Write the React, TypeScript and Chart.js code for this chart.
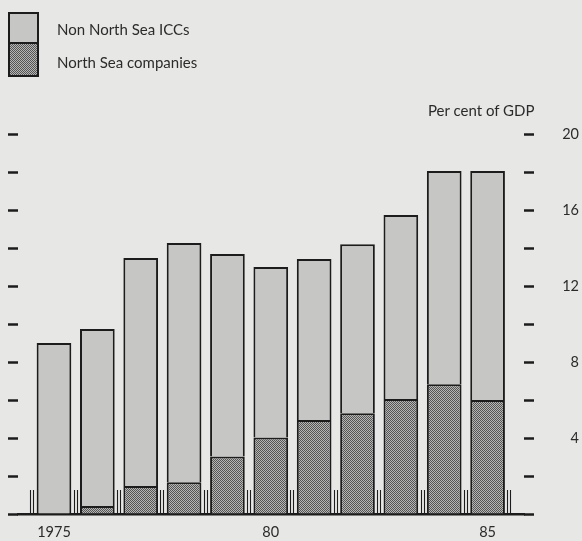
import React, { useEffect, useRef } from 'react';
import { Chart, registerables } from 'chart.js';

Chart.register(...registerables);

// ---- data ----
const years = [1975, 1976, 1977, 1978, 1979, 1980, 1981, 1982, 1983, 1984, 1985];
const northSea = [0, 0.42, 1.47, 1.67, 3.02, 4.02, 4.95, 5.3, 6.05, 6.83, 6.0];
const nonNorthSea = [9.0, 9.32, 12.0, 12.59, 10.66, 8.98, 8.47, 8.9, 9.69, 11.22, 12.05];
const yearTickLabels: Record<number, string> = { 1975: '1975', 1980: '80', 1985: '85' };
const rightTickLabels = [4, 8, 12, 16, 20];
const seriesNames = ['Non North Sea ICCs', 'North Sea companies'];
const unitLabel = 'Per cent of GDP';

const INK = '#1c1c1c';
const TEXT = '#2b2b2b';
const PAPER = '#e7e7e5';
const LIGHT = '#c6c6c4';
const FONT = 'Lato, "Open Sans", sans-serif';

function makePatternCanvas(): HTMLCanvasElement {
  const c = document.createElement('canvas');
  c.width = 2;
  c.height = 2;
  const g = c.getContext('2d')!;
  g.fillStyle = '#b6b6b4';
  g.fillRect(0, 0, 2, 2);
  g.fillStyle = '#555555';
  g.fillRect(0, 0, 1, 1);
  g.fillRect(1, 1, 1, 1);
  return c;
}

const separatorPlugin = {
  id: 'yearSeparators',
  afterDatasetsDraw(chart: any) {
    const x = chart.scales.x;
    const bottom = chart.chartArea.bottom;
    const ctx = chart.ctx as CanvasRenderingContext2D;
    const bounds = [...years.map((y) => y - 0.5), years[years.length - 1] + 0.5];
    ctx.save();
    ctx.strokeStyle = INK;
    ctx.lineWidth = 1.1;
    for (const b of bounds) {
      const px = Math.round(x.getPixelForValue(b));
      for (const dx of [-1.5, 1.5]) {
        ctx.beginPath();
        ctx.moveTo(px + dx, bottom);
        ctx.lineTo(px + dx, bottom - 24);
        ctx.stroke();
      }
    }
    ctx.restore();
  },
};

export default function App() {
  const canvasRef = useRef<HTMLCanvasElement>(null);
  const swatchRef = useRef<HTMLDivElement>(null);

  useEffect(() => {
    const canvas = canvasRef.current!;
    const ctx = canvas.getContext('2d')!;
    const patCanvas = makePatternCanvas();
    const pattern = ctx.createPattern(patCanvas, 'repeat')!;
    if (swatchRef.current) {
      swatchRef.current.style.backgroundImage = `url(${patCanvas.toDataURL()})`;
      swatchRef.current.style.backgroundRepeat = 'repeat';
      (swatchRef.current.style as any).imageRendering = 'pixelated';
    }

    Chart.defaults.font.family = FONT;
    Chart.defaults.font.size = 14;
    Chart.defaults.color = TEXT;

    const chart = new Chart(canvas, {
      type: 'bar',
      data: {
        labels: years,
        datasets: [
          {
            label: seriesNames[1],
            data: northSea,
            xAxisID: 'x',
            yAxisID: 'y',
            backgroundColor: pattern,
            borderColor: INK,
            borderWidth: 2,
            categoryPercentage: 0.8,
            barPercentage: 1,
          },
          {
            label: seriesNames[0],
            data: nonNorthSea,
            xAxisID: 'x',
            yAxisID: 'y',
            backgroundColor: LIGHT,
            borderColor: INK,
            borderWidth: 2,
            categoryPercentage: 0.8,
            barPercentage: 1,
          },
        ],
      },
      options: {
        responsive: false,
        animation: false,
        layout: { padding: { left: 8, right: 3, top: 134, bottom: 0 } },
        plugins: { legend: { display: false }, tooltip: { enabled: false }, title: { display: false } },
        scales: {
          x: {
            type: 'linear',
            offset: false,
            min: 1974.17,
            max: 1985.84,
            stacked: true,
            afterBuildTicks: (s: any) => {
              s.ticks = years.map((v) => ({ value: v }));
            },
            afterFit: (s: any) => {
              s.height = 27;
            },
            grid: { display: false, drawTicks: false, offset: false },
            border: { display: true, color: INK, width: 2.5 },
            ticks: {
              autoSkip: false,
              maxRotation: 0,
              padding: 10,
              color: TEXT,
              font: { size: 14.5, family: FONT },
              callback: (v: any) => yearTickLabels[Number(v)] ?? '',
            },
          },
          y: {
            type: 'linear',
            position: 'right',
            stacked: true,
            min: 0,
            max: 20,
            afterFit: (s: any) => {
              s.width = 55;
            },
            ticks: {
              stepSize: 2,
              crossAlign: 'far',
              color: TEXT,
              font: { size: 14.5, family: FONT },
              callback: (v: any) => (rightTickLabels.includes(Number(v)) ? String(v) : ''),
            },
            grid: { drawOnChartArea: false, drawTicks: true, tickLength: 10, tickWidth: 2.5, tickColor: INK },
            border: { display: false },
          },
          yL: {
            type: 'linear',
            position: 'left',
            min: 0,
            max: 20,
            afterFit: (s: any) => {
              s.width = 10;
            },
            ticks: { display: false, stepSize: 2 },
            grid: { drawOnChartArea: false, drawTicks: true, tickLength: 10, tickWidth: 2.5, tickColor: INK },
            border: { display: false },
          },
        },
      } as any,
      plugins: [separatorPlugin],
    });

    return () => chart.destroy();
  }, []);

  const textStyle: React.CSSProperties = {
    position: 'absolute',
    fontFamily: FONT,
    fontSize: 15,
    lineHeight: '16px',
    color: TEXT,
    whiteSpace: 'nowrap',
  };

  return (
    <div
      style={{
        position: 'fixed',
        left: 0,
        top: 0,
        width: 582,
        height: 541,
        background: PAPER,
        overflow: 'hidden',
      }}
    >
      <canvas ref={canvasRef} width={582} height={541} style={{ position: 'absolute', left: 0, top: 0, display: 'block' }} />
      <div
        style={{
          position: 'absolute',
          left: 8,
          top: 12,
          width: 31,
          height: 65,
          border: `2px solid ${INK}`,
          boxSizing: 'border-box',
        }}
      >
        <div style={{ height: 30, background: LIGHT, borderBottom: `2px solid ${INK}`, boxSizing: 'border-box' }} />
        <div ref={swatchRef} style={{ height: 31 }} />
      </div>
      <div style={{ ...textStyle, left: 57, top: 21 }}>{seriesNames[0]}</div>
      <div style={{ ...textStyle, left: 57, top: 54 }}>{seriesNames[1]}</div>
      <div style={{ ...textStyle, left: 428, top: 101.5 }}>{unitLabel}</div>
    </div>
  );
}
